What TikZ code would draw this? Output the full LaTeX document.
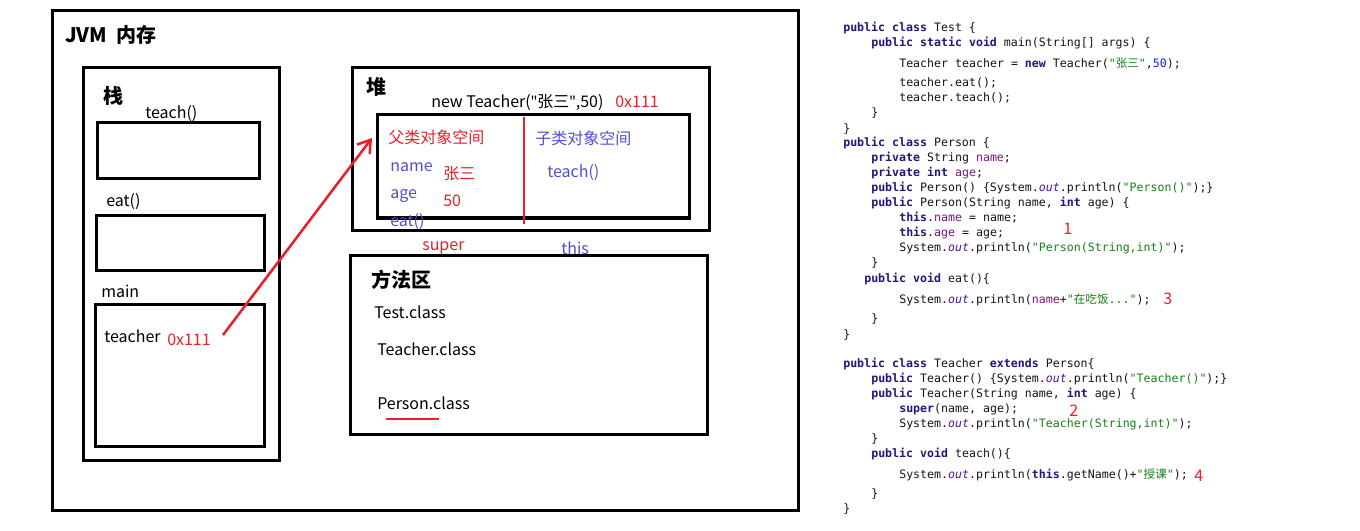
\documentclass[tikz,border=0pt]{standalone}
\usepackage{fontspec}
\setmainfont{Noto Sans CJK SC}
\newfontfamily\codefont{DejaVu Sans Mono}
\newfontfamily\cjk{Noto Sans CJK SC}
\newfontfamily\latn{Noto Sans}
\usetikzlibrary{arrows.meta}
\definecolor{redc}{RGB}{232,32,42}
\definecolor{bluec}{RGB}{80,80,210}
\definecolor{kwc}{RGB}{40,20,125}
\definecolor{strc}{RGB}{20,130,20}
\definecolor{fldc}{RGB}{125,20,130}
\definecolor{outc}{RGB}{80,20,160}
\definecolor{numc}{RGB}{30,30,230}
\definecolor{txtc}{RGB}{20,20,20}
\newcommand\kw[1]{{\bfseries\color{kwc}#1}}
\newcommand\st[1]{{\color{strc}#1}}
\newcommand\fd[1]{{\color{fldc}#1}}
\newcommand\nm[1]{{\color{numc}#1}}
\newcommand\cOut{{\color{outc}\itshape out}}
\newcommand\zh[1]{{\cjk #1}}
\newcommand\dq{{\latn"}}
\begin{document}
\begin{tikzpicture}[x=0.75pt,y=-0.75pt,
  box/.style={draw=black,line width=2.25pt},
  lbl/.style={anchor=west,inner sep=0pt,font=\fontsize{12}{14}\selectfont,text height=0.8em,text depth=0.2em,yshift=-1.5pt},
  head/.style={anchor=west,inner sep=0pt,font=\fontsize{15}{17}\selectfont\bfseries,text height=0.8em,text depth=0.2em,yshift=-3pt},
  code/.style={anchor=west,inner sep=0pt,font=\codefont\fontsize{8.7}{10}\selectfont,text height=0.75em,text depth=0.2em,text=txtc,yshift=-1pt},
  num/.style={anchor=west,inner sep=0pt,font=\fontsize{12}{14}\selectfont,text=redc,text height=0.75em,text depth=0.1em}]
\useasboundingbox (0,0) rectangle (1360,531);
\fill[white] (0,0) rectangle (1360,531);
% ---- boxes ----
\draw[box] (52,11) rectangle (798,510);
\draw[box] (83,68) rectangle (279,460);
\draw[box] (97,123) rectangle (259,179);
\draw[box] (96,216) rectangle (264,270);
\draw[box] (95,304) rectangle (264,446);
\draw[box] (352,68) rectangle (709,230);
\draw[box] (377,115) rectangle (689,218);
\draw[box] (350,255) rectangle (707,434);
% ---- stack labels ----
\node[head] (jvm) at (65,35) {JVM\ \ 内存};
\node[head] (stk) at (103,96) {栈};
\node[lbl] (tch) at (145,113) {teach()};
\node[lbl] (eat) at (106,201) {eat()};
\node[lbl] (mn) at (101,291) {main};
\node[lbl] (tvar) at (104,336) {teacher};
\node[lbl,text=redc] (addr) at (167,339) {0x111};
% ---- heap ----
\node[head] (heap) at (366,87) {堆};
\node[lbl] (newt) at (431,102) {new Teacher(\dq 张三\dq,50)};
\node[lbl,text=redc] (haddr) at (615,102) {0x111};
\node[lbl,text=redc] (fsp) at (388,138) {父类对象空间};
\node[lbl,text=bluec] (csp) at (535,139) {子类对象空间};
\node[lbl,text=bluec] (fname) at (390,165) {name};
\node[lbl,text=bluec] (fage) at (390,193) {age};
\node[lbl,text=bluec] (feat) at (390,220) {eat()};
\node[lbl,text=redc] (vname) at (443,174) {张三};
\node[lbl,text=redc] (vage) at (443,200) {50};
\node[lbl,text=bluec] (cteach) at (547,172) {teach()};
\node[lbl,text=redc] (sup) at (422,244) {super};
\node[lbl,text=bluec] (ths) at (561,248) {this};
\draw[redc,line width=2.2pt] (524,117) -- (524,224);
% ---- method area ----
\node[head] (marea) at (371,279) {方法区};
\node[lbl] (ctest) at (374,312) {Test.class};
\node[lbl] (cteacher) at (377,349) {Teacher.class};
\node[lbl] (cperson) at (377,403) {Person.class};
\draw[redc,line width=2.2pt] (386,419) -- (439,419);
% ---- reference arrow ----
\coordinate (arrS) at (223,335);
\coordinate (arrE) at (372,138);
\draw[redc,line width=1.9pt,-{Straight Barb[length=9pt,width=12pt]}] (arrS) -- (arrE);
% ---- code ----
\node[code] (l1) at (843,27) {\kw{public} \kw{class} Test \{};
\node[code] (l2) at (871,42) {\kw{public} \kw{static} \kw{void} main(String[] args) \{};
\node[code] (l3) at (899,63) {Teacher teacher = \kw{new} Teacher(\st{"\zh{张三}"},\nm{50});};
\node[code] (l4) at (899,82) {teacher.eat();};
\node[code] (l5) at (899,97) {teacher.teach();};
\node[code] (l6) at (871,112) {\}};
\node[code] (l7) at (843,128) {\}};
\node[code] (l8) at (843,142) {\kw{public} \kw{class} Person \{};
\node[code] (l9) at (871,157) {\kw{private} String \fd{name};};
\node[code] (l10) at (871,172) {\kw{private} \kw{int} \fd{age};};
\node[code] (l11) at (871,187) {\kw{public} Person() \{System.\cOut.println(\st{"Person()"});\}};
\node[code] (l12) at (871,202) {\kw{public} Person(String name, \kw{int} age) \{};
\node[code] (l13) at (899,217) {\kw{this}.\fd{name} = name;};
\node[code] (l14) at (899,232) {\kw{this}.\fd{age} = age;};
\node[code] (l15) at (899,247) {System.\cOut.println(\st{"Person(String,int)"});};
\node[code] (l16) at (871,262) {\}};
\node[code] (l17) at (864,277) {\kw{public} \kw{void} eat()\{};
\node[code] (l18) at (899,298) {System.\cOut.println(\fd{name}+\st{"\zh{在吃饭}..."});};
\node[code] (l19) at (871,317) {\}};
\node[code] (l20) at (843,333) {\}};
\node[code] (l21) at (843,362) {\kw{public} \kw{class} Teacher \kw{extends} Person\{};
\node[code] (l22) at (871,377) {\kw{public} Teacher() \{System.\cOut.println(\st{"Teacher()"});\}};
\node[code] (l23) at (871,392) {\kw{public} Teacher(String name, \kw{int} age) \{};
\node[code] (l24) at (899,407) {\kw{super}(name, age);};
\node[code] (l25) at (899,422) {System.\cOut.println(\st{"Teacher(String,int)"});};
\node[code] (l26) at (871,437) {\}};
\node[code] (l27) at (871,452) {\kw{public} \kw{void} teach()\{};
\node[code] (l28) at (899,473) {System.\cOut.println(\kw{this}.getName()+\st{"\zh{授课}"});};
\node[code] (l29) at (871,492) {\}};
\node[code] (l30) at (843,507) {\}};
% ---- step numbers ----
\node[num] (n1) at (1063,230) {1};
\node[num] (n3) at (1163,300) {3};
\node[num] (n2) at (1069,412) {2};
\node[num] (n4) at (1194,477) {4};
\end{tikzpicture}
\end{document}
